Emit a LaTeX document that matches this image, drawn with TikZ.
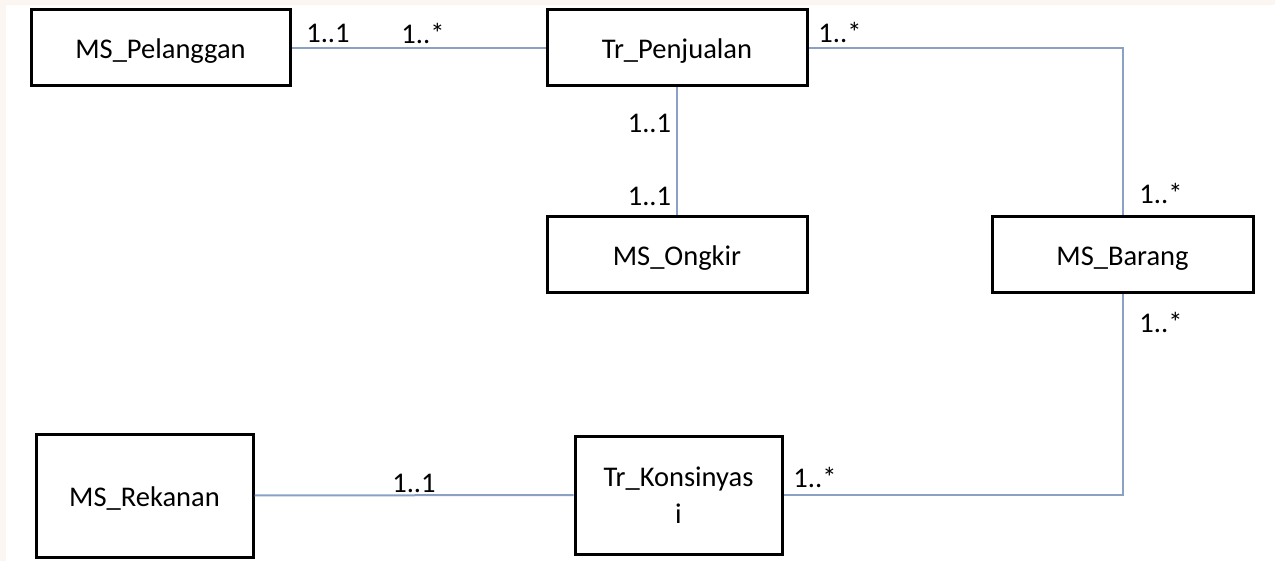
\documentclass[tikz,border=0pt]{standalone}
\usepackage{fontspec}
\setmainfont{Carlito}
\definecolor{bgtint}{RGB}{252,246,242}
\definecolor{conn}{RGB}{140,160,196}
\begin{document}
\begin{tikzpicture}[x=1pt,y=-1pt,
  entity/.style={draw=black,line width=3pt,fill=white,inner sep=0pt,
    font=\fontsize{28.5}{37}\selectfont,text height=24pt,text depth=3pt},
  card/.style={inner sep=0pt,font=\fontsize{28.5}{34}\selectfont},
  link/.style={draw=conn,line width=2pt}]
\useasboundingbox (0,0) rectangle (1275,561);
\fill[bgtint] (0,0) rectangle (1275,561);
\fill[white] (6,5) rectangle (1275,561);
% entities
\node[entity,minimum width=259pt,minimum height=76pt] (pel) at (160.5,48) {MS\_Pelanggan};
\node[entity,minimum width=260pt,minimum height=76pt] (penj) at (677,48) {Tr\_Penjualan};
\node[entity,minimum width=260pt,minimum height=76pt] (ongkir) at (677,255) {MS\_Ongkir};
\node[entity,minimum width=261pt,minimum height=76pt] (barang) at (1122.5,255) {MS\_Barang};
\node[entity,minimum width=207pt,minimum height=118pt,text width=200pt,align=center,text height=,text depth=] (kons) at (678.5,495) {Tr\_Konsinyas\\i};
\node[entity,minimum width=217pt,minimum height=123pt] (rek) at (144.5,495.5) {MS\_Rekanan};
% connectors
\draw[link] (pel.east) -- (penj.west);
\draw[link] (penj.south) -- (ongkir.north);
\draw[link] (penj.east) -| (barang.north);
\draw[link] (barang.south) |- (kons.east);
\draw[link] (rek.east) -- (kons.west);
% multiplicities
\node[card] (c1) at (328,33) {1..1};
\node[card] (c2) at (423,33) {1..*};
\node[card] (c3) at (840,32) {1..*};
\node[card] (c4) at (649.5,123) {1..1};
\node[card] (c5) at (649.5,196) {1..1};
\node[card] (c6) at (1161,193) {1..*};
\node[card] (c7) at (1161,322) {1..*};
\node[card] (c8) at (815,477) {1..*};
\node[card] (c9) at (414,483) {1..1};
\end{tikzpicture}
\end{document}
